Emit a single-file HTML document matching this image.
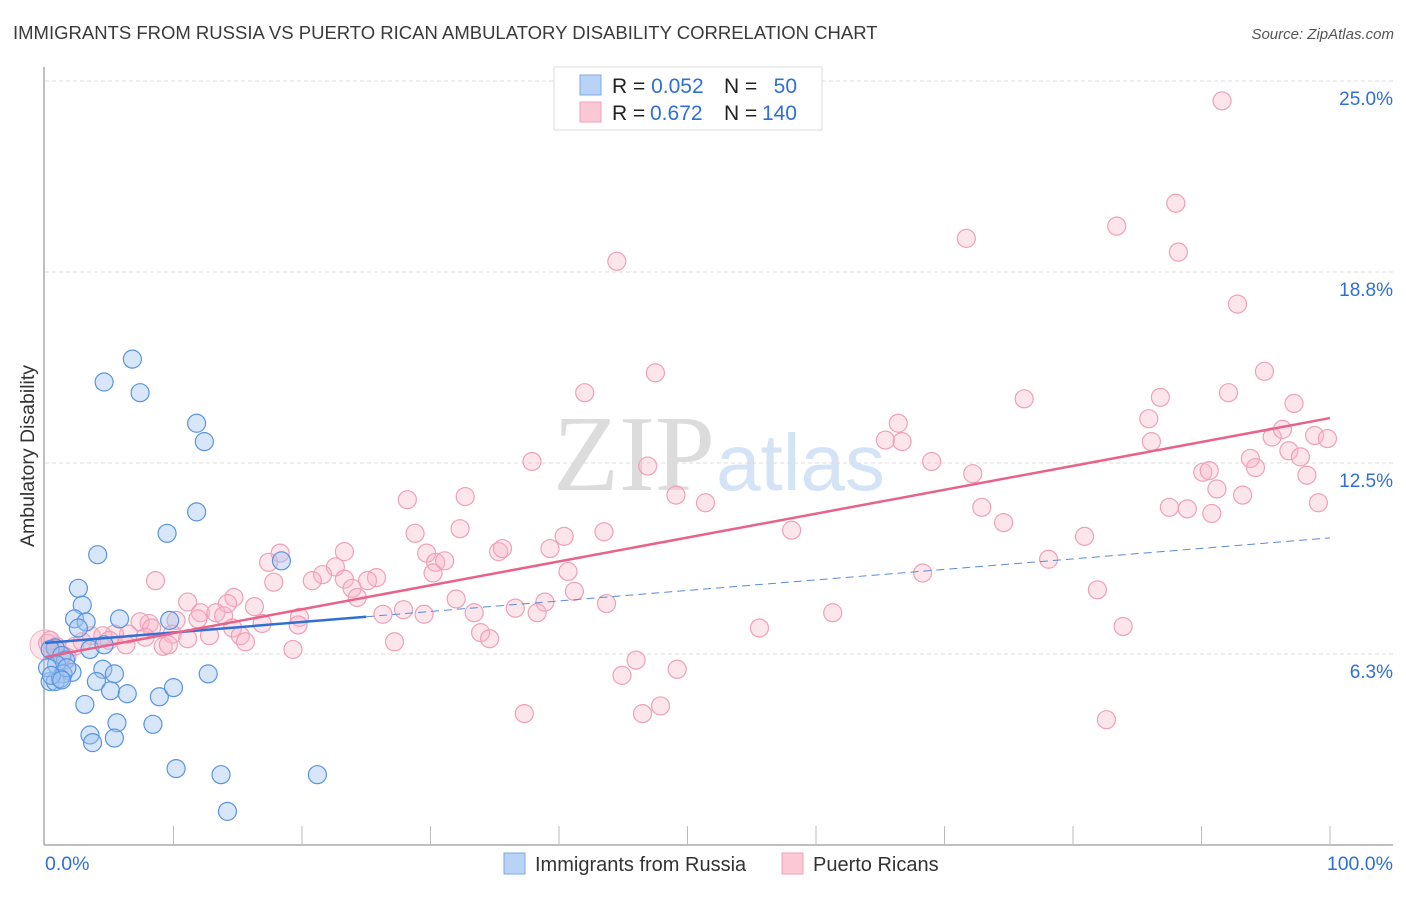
<!DOCTYPE html>
<html><head><meta charset="utf-8"><style>
body{margin:0;background:#fff;width:1406px;height:892px;overflow:hidden;font-family:"Liberation Sans",sans-serif}
svg text{font-family:"Liberation Sans",sans-serif}
</style></head><body>
<svg id="chart" width="1406" height="892" xmlns="http://www.w3.org/2000/svg">
<text x="13" y="39" font-size="18.5" fill="#3a3a3a">IMMIGRANTS FROM RUSSIA VS PUERTO RICAN AMBULATORY DISABILITY CORRELATION CHART</text>
<text x="1394" y="39" font-size="15" fill="#555" text-anchor="end" font-style="italic">Source: ZipAtlas.com</text>
<g>
<text x="553" y="490" font-size="108" fill="#dcdcdc" style="font-family:'Liberation Serif',serif">ZIP</text>
<text x="716" y="490" font-size="80" fill="#d4e3f6">atlas</text>
</g>
<g id="grid"></g>
<g id="axes"></g>
<g id="pinkPts"></g>
<g id="bluePts"></g>
<g id="trends"></g>
<text transform="translate(34,456) rotate(-90)" font-size="19.5" fill="#333" text-anchor="middle">Ambulatory Disability</text>
<g>
<rect x="554" y="67" width="268" height="63" fill="#fff" stroke="#ddd"/>
<rect x="580" y="75" width="21" height="20" fill="#b8d3f5" stroke="#7eaae6"/>
<rect x="580" y="102" width="21" height="20" fill="#fbc8d6" stroke="#f0a0b8"/>
<text x="612" y="93" font-size="21" fill="#222">R = <tspan fill="#2f6fd6">0.052</tspan></text>
<text x="724" y="93" font-size="21" fill="#222">N = </text><text x="797" y="93" font-size="21" fill="#2f6fd6" text-anchor="end">50</text>
<text x="612" y="120" font-size="21" fill="#222">R = </text><text x="650" y="120" font-size="21" fill="#2f6fd6">0.672</text>
<text x="724" y="120" font-size="21" fill="#222">N = </text><text x="797" y="120" font-size="21" fill="#2f6fd6" text-anchor="end">140</text>
</g>
<g>
<rect x="504" y="853" width="21" height="21" fill="#b8d3f5" stroke="#7eaae6"/>
<text x="535" y="871" font-size="20" fill="#333">Immigrants from Russia</text>
<rect x="782" y="853" width="21" height="21" fill="#fbc8d6" stroke="#f0a0b8"/>
<text x="813" y="871" font-size="20" fill="#333">Puerto Ricans</text>
</g>
</svg>
<script>
const yTicks=[6.25,12.5,18.75,25];
const yTickLabels=["6.3%","12.5%","18.8%","25.0%"];
const xTicks=[0,10,20,30,40,50,60,70,80,90,100];
const blueX=[6.8,4.6,7.4,11.8,12.4,11.8,9.5,4.1,18.4,2.6,2.9,2.3,3.2,2.6,5.8,9.7,0.8,0.4,1.3,1.6,3.5,4.6,0.9,2.1,1.4,0.4,0.8,1.2,4.5,5.4,4.0,5.1,6.4,8.9,10.0,12.7,3.1,5.6,8.4,3.5,3.7,5.4,10.2,13.7,21.2,14.2,0.2,0.5,1.7,1.3];
const blueY=[15.9,15.15,14.8,13.8,13.2,10.9,10.2,9.5,9.3,8.4,7.85,7.4,7.3,7.1,7.4,7.35,6.45,6.4,6.2,6.05,6.4,6.55,5.9,5.65,5.6,5.35,5.35,5.45,5.75,5.6,5.35,5.05,4.95,4.85,5.15,5.6,4.6,4.0,3.95,3.6,3.35,3.5,2.5,2.3,2.3,1.1,5.8,5.55,5.8,5.4];
const pinkX=[91.6,88.0,71.7,83.4,88.2,44.5,92.8,42.0,47.5,94.9,86.8,76.2,92.1,97.2,66.4,85.9,65.4,66.7,95.5,98.8,99.8,96.3,93.8,94.2,96.8,97.7,86.1,37.9,46.9,69.0,72.2,90.1,90.6,98.2,91.2,93.2,49.1,51.4,28.2,32.7,72.9,87.5,88.9,90.8,99.1,74.6,58.1,80.9,32.3,28.8,43.5,40.4,35.3,35.6,39.3,29.7,23.3,18.3,17.4,78.1,22.6,21.6,30.4,31.1,30.2,25.8,23.3,25.1,20.8,17.8,40.7,68.3,8.6,81.9,41.2,23.9,24.3,14.7,14.2,11.1,16.3,32.0,38.9,43.7,36.6,27.9,33.4,38.3,29.5,26.3,12.1,13.3,8.1,7.4,8.3,10.2,11.9,13.9,16.9,19.8,61.3,83.9,55.6,19.7,14.6,6.5,5.4,3.6,4.5,5.0,12.8,9.9,7.8,11.1,15.2,33.9,34.6,15.6,27.2,6.3,9.2,9.6,2.3,2.9,19.3,0.9,0.2,0.8,1.4,1.7,46.0,49.2,44.9,37.3,46.5,47.9,82.6,0.4];
const pinkY=[24.35,21.0,19.85,20.25,19.4,19.1,17.7,14.8,15.45,15.5,14.65,14.6,14.8,14.45,13.8,13.95,13.25,13.2,13.35,13.4,13.3,13.6,12.65,12.35,12.9,12.7,13.2,12.55,12.4,12.55,12.15,12.2,12.25,12.1,11.65,11.45,11.45,11.2,11.3,11.4,11.05,11.05,11.0,10.85,11.2,10.55,10.3,10.1,10.35,10.2,10.25,10.1,9.6,9.7,9.7,9.55,9.6,9.55,9.25,9.35,9.1,8.85,9.25,9.3,8.9,8.75,8.7,8.65,8.65,8.6,8.95,8.9,8.65,8.35,8.3,8.4,8.1,8.1,7.9,7.95,7.8,8.05,7.95,7.9,7.75,7.7,7.6,7.6,7.55,7.55,7.6,7.6,7.25,7.3,7.1,7.35,7.4,7.5,7.25,7.45,7.6,7.15,7.1,7.2,7.1,6.9,6.9,6.85,6.85,6.7,6.85,6.9,6.8,6.75,6.85,6.95,6.75,6.65,6.65,6.55,6.5,6.55,6.5,6.65,6.4,6.5,6.6,6.4,6.2,6.15,6.05,5.75,5.55,4.3,4.3,4.55,4.1,6.7];
const pinkTrend=[6.15,13.97];
const blueTrend=[6.61,10.05];
const blueSolidEnd=25;
const NS="http://www.w3.org/2000/svg";
const X=v=>45+v*12.85, Y=v=>845-v*30.56;
function mk(tag,attrs,parent){const e=document.createElementNS(NS,tag);for(const k in attrs)e.setAttribute(k,attrs[k]);parent.appendChild(e);return e;}
const grid=document.getElementById('grid'),axes=document.getElementById('axes');
yTicks.forEach((t,i)=>{
  const l=mk('line',{x1:45,x2:1393,y1:Y(t),y2:Y(t),stroke:'#ddd','stroke-dasharray':'4,3'},grid);
  
  
  const tx=mk('text',{x:1393,y:Y(t)+24,'font-size':19,fill:'#2f6fd6','text-anchor':'end'},axes);
  tx.textContent=yTickLabels[i];
  
  
});
mk('line',{x1:44,x2:44,y1:67,y2:845,stroke:'#aaa','stroke-width':1.5},axes);
mk('line',{x1:44,x2:1393,y1:845,y2:845,stroke:'#aaa','stroke-width':1.5},axes);
xTicks.forEach(t=>{if(t>0){const l=mk('line',{x1:X(t),x2:X(t),y1:826,y2:845,stroke:'#bbb'},axes);
  
  }});
const x0=mk('text',{x:45,y:870,'font-size':19.5,fill:'#2f6fd6'},axes);x0.textContent='0.0%';


const x1=mk('text',{x:1393,y:870,'font-size':19.5,fill:'#2f6fd6','text-anchor':'end'},axes);x1.textContent='100.0%';


const pg=document.getElementById('pinkPts');
const big=mk('circle',{cx:X(0),cy:Y(6.55),r:15,fill:'rgba(248,180,200,0.35)',stroke:'#f3b0c4'},pg);


pinkX.forEach((v,i)=>{const c=mk('circle',{cx:X(v),cy:Y(pinkY[i]),r:9,fill:'rgba(248,180,200,0.35)',stroke:'#f0a0b8','stroke-width':1.2},pg);
  
  });
const bg=document.getElementById('bluePts');
blueX.forEach((v,i)=>{const c=mk('circle',{cx:X(v),cy:Y(blueY[i]),r:9,fill:'rgba(160,196,240,0.42)',stroke:'#5a94e0','stroke-width':1.2},bg);
  
  });
const tg=document.getElementById('trends');
const bAt=x=>blueTrend[0]+(blueTrend[1]-blueTrend[0])*x/100;
const bd=mk('line',{x1:X(blueSolidEnd),y1:Y(bAt(blueSolidEnd)),x2:X(100),y2:Y(blueTrend[1]),stroke:'#5a8ad8','stroke-width':1,'stroke-dasharray':'8,5'},tg);


const bs=mk('line',{x1:X(0),y1:Y(blueTrend[0]),x2:X(blueSolidEnd),y2:Y(bAt(blueSolidEnd)),stroke:'#2f6fd6','stroke-width':2.5},tg);


const pl=mk('line',{x1:X(0),y1:Y(pinkTrend[0]),x2:X(100),y2:Y(pinkTrend[1]),stroke:'#e8628a','stroke-width':2.5},tg);


</script>
</body></html>
